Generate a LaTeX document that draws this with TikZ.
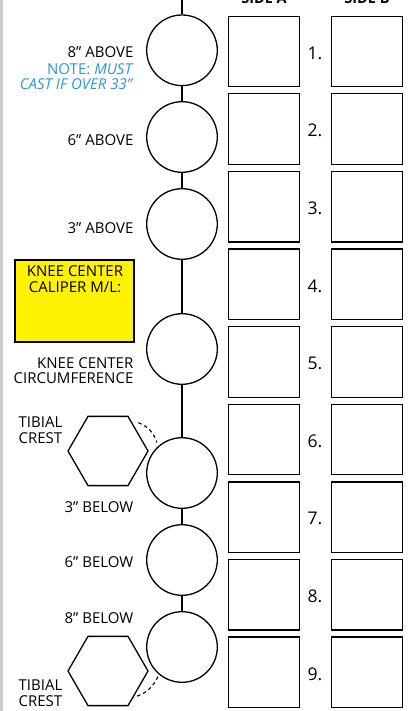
\documentclass[tikz,border=0pt]{standalone}
\usepackage{fontspec}
\setmainfont{Open Sans}
\usetikzlibrary{shapes.geometric,calc}
\definecolor{noteblue}{RGB}{41,152,214}
\definecolor{kneeyellow}{RGB}{255,242,0}
\definecolor{bargray}{RGB}{205,205,205}
\begin{document}
\begin{tikzpicture}[x=1pt,y=-1pt,line width=1.3pt,
  meas/.style={circle,draw,minimum size=70.6pt,inner sep=0pt},
  cell/.style={rectangle,draw,minimum width=71pt,minimum height=70.5pt,inner sep=0pt},
  num/.style={font=\fontsize{17.5}{20}\selectfont,inner sep=0pt,anchor=base},
  lbl/.style={font=\fontsize{15}{15.6}\selectfont,inner sep=0pt,align=right,anchor=north east},
  lbll/.style={font=\fontsize{15}{15.6}\selectfont,inner sep=0pt,align=left,anchor=north west},
  hexa/.style={regular polygon,regular polygon sides=6,draw,minimum size=80pt,inner sep=0pt},
  crest/.style={dash pattern=on 3.5pt off 3pt,line width=1.1pt},
  head/.style={font=\bfseries\fontsize{14.5}{16}\selectfont,inner sep=0pt,anchor=base}]
\useasboundingbox (0,0) rectangle (411,711);
\fill[bargray] (0,0) rectangle (2.5,711);
% headers
\node[head] (ha) at (264,4) {SIDE A};
\node[head] (hb) at (367,4) {SIDE B};
% boxes and numbers
\foreach \i in {1,...,9}{
  \pgfmathsetmacro{\yc}{51.5+77.6*(\i-1)}
  \node[cell] (a\i) at (264,\yc) {};
  \node[cell] (b\i) at (367,\yc) {};
  \node[num] (n\i) at (315,\yc+7.8) {\i.};
}
% circles
\coordinate (top) at (182,0);
\node[meas] (c1) at (182,50.3) {};
\node[meas] (c2) at (182,137) {};
\node[meas] (c3) at (182,224) {};
\node[meas] (c4) at (182,349) {};
\node[meas] (c5) at (182,473) {};
\node[meas] (c6) at (182,560) {};
\node[meas] (c7) at (182,647) {};
\draw (top) -- (c1) -- (c2) -- (c3) -- (c4) -- (c5) -- (c6) -- (c7);
% labels
\node[lbl] (l1) at (134,46) {8” ABOVE};
\node[lbl,text=noteblue] (l1n) at (134,62.5) {NOTE: \textit{MUST}\\\textit{CAST IF OVER 33”}};
\node[lbl] (l2) at (134,134) {6” ABOVE};
\node[lbl] (l3) at (134,221.5) {3” ABOVE};
\node[draw,fill=kneeyellow,line width=1.1pt,minimum width=119pt,minimum height=82pt,inner sep=0pt] (yb) at (74.5,301) {};
\node[font=\fontsize{15}{15.6}\selectfont,inner sep=0pt,align=center,anchor=north] (ybt) at (75,265) {KNEE CENTER\\CALIPER M/L:};
\node[lbl] (l4) at (134,356.5) {KNEE CENTER\\CIRCUMFERENCE};
\node[lbll] (t1) at (18,416.5) {TIBIAL\\CREST};
\node[lbl] (l5) at (134,500.5) {3” BELOW};
\node[lbl] (l6) at (134,555.5) {6” BELOW};
\node[lbl] (l7) at (134,612) {8” BELOW};
\node[lbll] (t2) at (18,679) {TIBIAL\\CREST};
% hexagons
\node[hexa] (h1) at (108,451) {};
\node[hexa] (h2) at (108,671) {};
\draw[crest] ($(h1.60)+(10,7)$) to[bend left=25] ($(c5.130)+(-2,-3)$);
\draw[crest] ($(c7.230)+(-1,2)$) to[bend left=25] ($(h2.300)+(5,-9)$);
\end{tikzpicture}
\end{document}
